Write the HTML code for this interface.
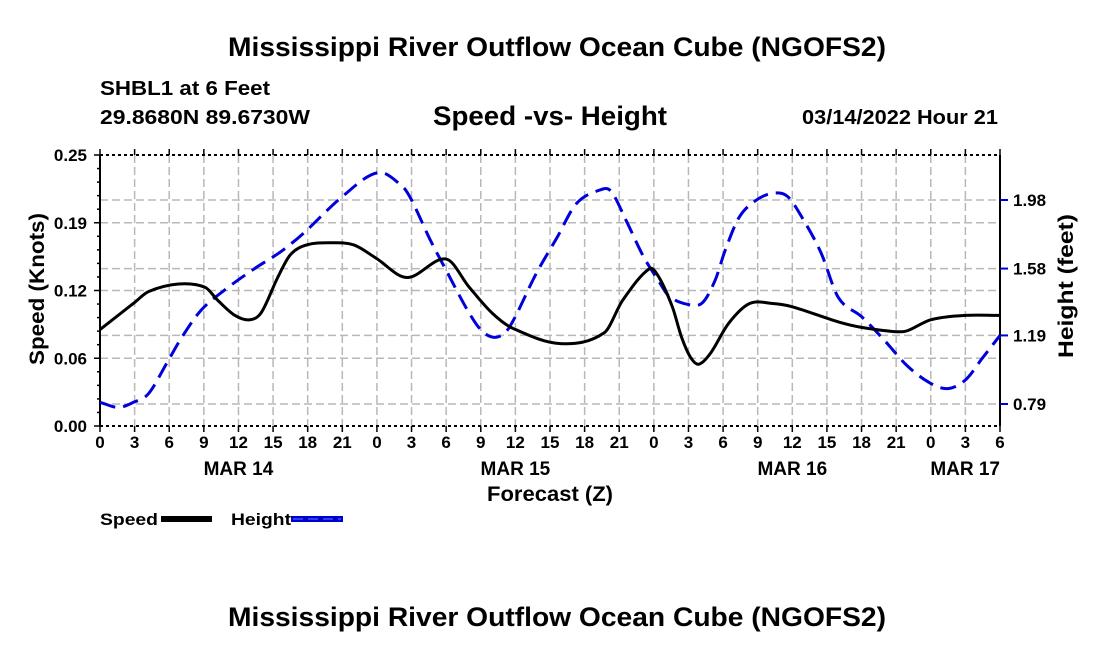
<!DOCTYPE html>
<html><head><meta charset="utf-8"><style>
body{margin:0;background:#fff;}
svg{display:block;font-family:"Liberation Sans",Arial,sans-serif;font-weight:bold;}
</style></head><body>
<svg id="c" width="1100" height="650" viewBox="0 0 1100 650">
<text x="557" y="56" font-size="27" text-anchor="middle" textLength="658" lengthAdjust="spacingAndGlyphs">Mississippi River Outflow Ocean Cube (NGOFS2)</text>
<text x="100" y="95" font-size="20" textLength="170" lengthAdjust="spacingAndGlyphs">SHBL1 at 6 Feet</text>
<text x="100" y="124" font-size="20" textLength="210" lengthAdjust="spacingAndGlyphs">29.8680N  89.6730W</text>
<text x="550" y="125" font-size="27" text-anchor="middle" textLength="234" lengthAdjust="spacingAndGlyphs">Speed -vs- Height</text>
<text x="802" y="124" font-size="20" textLength="196" lengthAdjust="spacingAndGlyphs">03/14/2022 Hour 21</text>
<text transform="translate(44,289) rotate(-90)" font-size="21" text-anchor="middle" textLength="152" lengthAdjust="spacingAndGlyphs">Speed (Knots)</text>
<text transform="translate(1073,286) rotate(-90)" font-size="21" text-anchor="middle" textLength="144" lengthAdjust="spacingAndGlyphs">Height (feet)</text>
<text x="550" y="501" font-size="21" text-anchor="middle" textLength="126" lengthAdjust="spacingAndGlyphs">Forecast (Z)</text>
<g id="grid"></g><g id="axes"></g><g id="series"></g>
<text x="100" y="525" font-size="17" textLength="58" lengthAdjust="spacingAndGlyphs">Speed</text>
<rect x="161" y="516" width="51" height="6" fill="#000"/>
<text x="231" y="525" font-size="17" textLength="60" lengthAdjust="spacingAndGlyphs">Height</text>
<rect x="291" y="516" width="52" height="6" fill="#0000cc"/>
<line x1="293" y1="519" x2="341" y2="519" stroke="#3355ff" stroke-width="1.5" stroke-dasharray="10,5"/>
<text x="557" y="626" font-size="27" text-anchor="middle" textLength="658" lengthAdjust="spacingAndGlyphs">Mississippi River Outflow Ocean Cube (NGOFS2)</text>
</svg>
<script>
const speedHours=[0,3,4.2,6.8,9.1,10.2,11.7,13,14,15.4,16.5,17.9,20,22,23.9,26.6,30,32,34,35.8,39.9,43.7,45.3,47.6,48.4,49.6,50.4,51.2,51.9,52.9,54.5,56.3,58.3,60,64,66,69,70,72,75,78];
const speedVals=[0.089,0.114,0.124,0.131,0.128,0.116,0.102,0.098,0.105,0.137,0.158,0.167,0.169,0.167,0.155,0.137,0.154,0.128,0.104,0.090,0.076,0.086,0.116,0.145,0.138,0.110,0.082,0.063,0.057,0.067,0.095,0.113,0.113,0.110,0.096,0.091,0.087,0.088,0.098,0.102,0.102];
const heightHours=[0,1.6,2.9,4.2,5.8,7.1,8.8,11.1,13.4,15.7,17.7,21,24.1,26.2,27,28.6,30,32,33.2,34.4,35.5,37.8,39.6,41.3,43.4,44.3,45.6,47.1,48.4,49.3,51,52.2,53.3,54.2,55.4,56.9,58.4,59.6,61,62.5,64,66,68,70,72,73.5,75,76.5,78];
const heightVals=[0.80,0.77,0.80,0.85,1.03,1.18,1.34,1.47,1.58,1.68,1.79,2.00,2.14,2.06,1.98,1.75,1.57,1.32,1.21,1.18,1.24,1.55,1.76,1.96,2.04,2.03,1.86,1.65,1.51,1.42,1.37,1.38,1.51,1.69,1.88,1.98,2.02,2.00,1.86,1.67,1.41,1.30,1.16,1.01,0.91,0.88,0.93,1.06,1.19];
const leftTicks=[0,0.0625,0.125,0.1875,0.25];
const leftLabels=["0.00","0.06","0.12","0.19","0.25"];
const rightTicks=[0.79,1.19,1.58,1.98];
const xTickLabels=["0","3","6","9","12","15","18","21","0","3","6","9","12","15","18","21","0","3","6","9","12","15","18","21","0","3","6"];
const dayLabels=["MAR 14","MAR 15","MAR 16","MAR 17"];
const dayHours=[12,36,60,78];

const X0=100,X1=1000,Y0=426,Y1=155,NS="http://www.w3.org/2000/svg";
const xs=h=>X0+h*(X1-X0)/78;
const ys=v=>Y0-v*(Y0-Y1)/0.25;
const yh=v=>404-(v-0.79)*(204/1.19);
function el(t,a,p){const e=document.createElementNS(NS,t);for(const k in a)e.setAttribute(k,a[k]);document.getElementById(p).appendChild(e);return e;}
for(let i=1;i<26;i++){const l=el('line',{x1:xs(i*3),x2:xs(i*3),y1:Y1,y2:Y0,stroke:'#b8b8b8','stroke-width':1.5,'stroke-dasharray':'8,4'},'grid');

}
leftTicks.slice(1,4).forEach(v=>{const l=el('line',{x1:X0,x2:X1,y1:ys(v),y2:ys(v),stroke:'#b8b8b8','stroke-width':1.5,'stroke-dasharray':'8,4'},'grid');

});
rightTicks.forEach(v=>{const l=el('line',{x1:X0,x2:X1,y1:yh(v),y2:yh(v),stroke:'#b8b8b8','stroke-width':1.5,'stroke-dasharray':'8,4'},'grid');

});
el('line',{x1:X0,x2:X0,y1:Y1,y2:Y0,stroke:'#000','stroke-width':2},'axes');
el('line',{x1:X1,x2:X1,y1:Y1,y2:Y0,stroke:'#000','stroke-width':2},'axes');
el('line',{x1:X0,x2:X1,y1:Y1,y2:Y1,stroke:'#000','stroke-width':2,'stroke-dasharray':'3,3'},'axes');
el('line',{x1:X0,x2:X1,y1:Y0,y2:Y0,stroke:'#000','stroke-width':2,'stroke-dasharray':'3,3'},'axes');
for(let i=0;i<=26;i++){const x=xs(i*3);
el('line',{x1:x,x2:x,y1:Y0,y2:Y0+6,stroke:'#000','stroke-width':1.5},'axes');
el('line',{x1:x,x2:x,y1:Y1,y2:Y1-6,stroke:'#000','stroke-width':1.5},'axes');
const t=el('text',{x:x,y:448,'font-size':17,'text-anchor':'middle'},'axes');t.textContent=xTickLabels[i];

}
dayLabels.forEach((d,i)=>{const t=el('text',{x:i==3?1000:xs(dayHours[i]),y:475,'font-size':19,'text-anchor':i==3?'end':'middle'},'axes');t.textContent=d;

});
for(let i=0;i<=20;i++){const y=ys(i*0.0125);el('line',{x1:X0-(i%5==0?6:3),x2:X0,y1:y,y2:y,stroke:'#000','stroke-width':1.5},'axes');}
leftTicks.forEach((v,i)=>{const t=el('text',{x:87,y:ys(v)+6,'font-size':17,'text-anchor':'end'},'axes');t.textContent=leftLabels[i];

});
rightTicks.forEach(v=>{el('line',{x1:X1,x2:X1+8,y1:yh(v),y2:yh(v),stroke:'#0000cc','stroke-width':2},'axes');
const t=el('text',{x:1013,y:yh(v)+6,'font-size':17},'axes');t.textContent=v.toFixed(2);

});
function smooth(p){const n=p.length,m=[];
for(let i=0;i<n;i++){const a=p[Math.max(i-1,0)],c=p[Math.min(i+1,n-1)];m.push((c[1]-a[1])/(c[0]-a[0]));}
let d='M'+p[0][0]+','+p[0][1];
for(let i=0;i<n-1;i++){const b=p[i],c=p[i+1],dx=(c[0]-b[0])/3;
d+=' C'+(b[0]+dx)+','+(b[1]+m[i]*dx)+' '+(c[0]-dx)+','+(c[1]-m[i+1]*dx)+' '+c[0]+','+c[1];}return d;}
const hp=el('path',{d:smooth(heightHours.map((h,i)=>[xs(h),yh(heightVals[i])])),fill:'none',stroke:'#0000dd','stroke-width':3,'stroke-dasharray':'16,8'},'series');


const sp=el('path',{d:smooth(speedHours.map((h,i)=>[xs(h),ys(speedVals[i])])),fill:'none',stroke:'#000','stroke-width':3},'series');


</script>
</body></html>
